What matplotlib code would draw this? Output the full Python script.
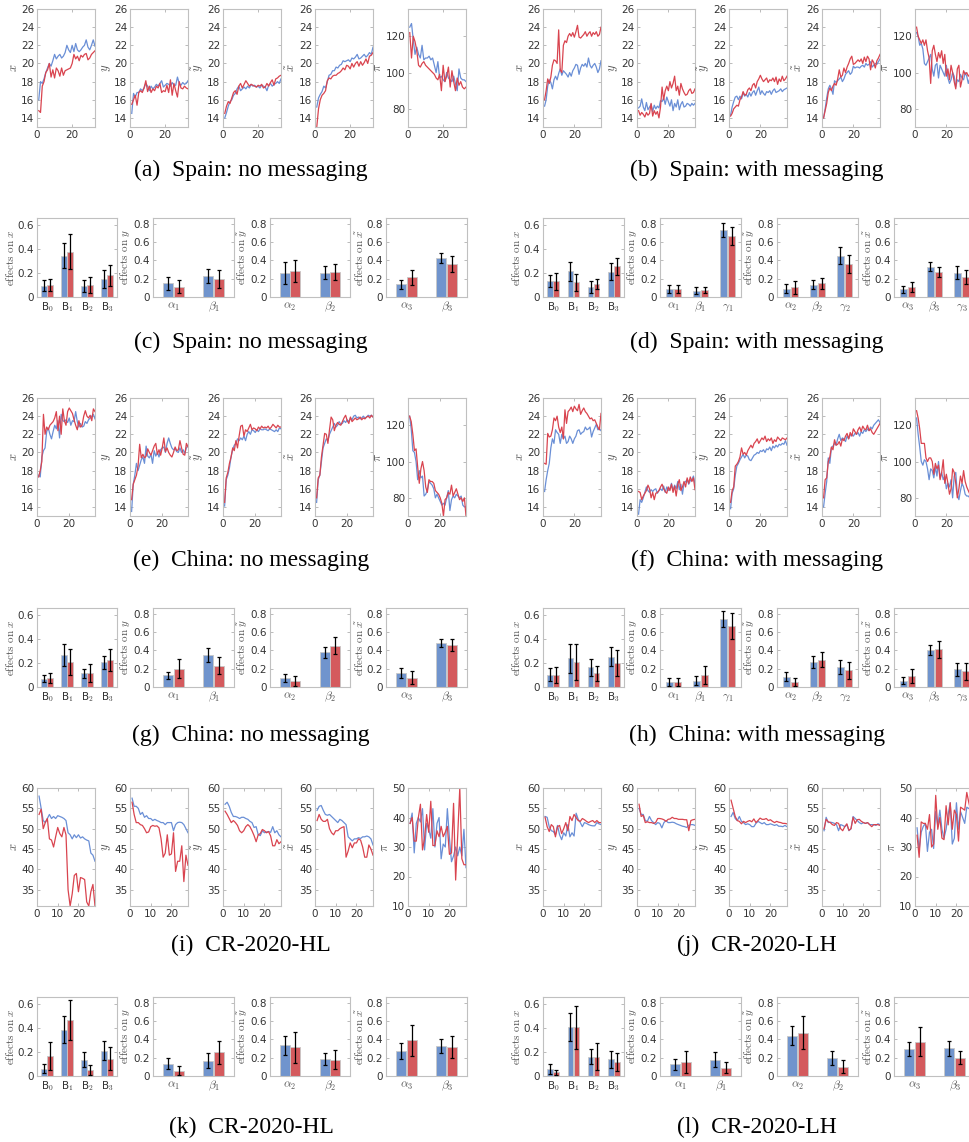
import numpy as np
import matplotlib
matplotlib.use('Agg')
import matplotlib.pyplot as plt

plt.rcParams['mathtext.fontset'] = 'cm'
plt.rcParams['font.family'] = ['DejaVu Sans']

# ---------------- time-series data ----------------
# panel (a) Spain: no messaging
a_x_b = [16.0, 18.0, 17.8, 18.3, 19.0, 19.5, 20.0, 19.7, 20.3, 21.0, 20.5, 20.8, 21.0, 20.6, 20.8, 21.2, 22.0, 21.5, 21.2, 22.0, 21.3, 22.2, 21.5, 21.3, 21.5, 21.8, 22.0, 22.6, 21.8, 21.5, 22.0, 22.6, 21.9]
a_x_r = [14.8, 14.6, 17.5, 18.0, 19.0, 19.3, 20.0, 18.5, 19.3, 18.4, 19.5, 19.2, 18.6, 19.5, 18.7, 19.2, 19.3, 19.4, 19.5, 20.0, 21.0, 20.5, 20.8, 20.3, 20.9, 20.7, 21.0, 21.1, 20.4, 20.6, 21.0, 21.2, 21.4]
a_y_b = [14.5, 16.7, 16.3, 16.8, 16.8, 17.2, 17.0, 17.3, 17.8, 17.5, 17.0, 17.5, 17.2, 17.4, 17.7, 17.5, 17.8, 18.1, 17.4, 17.6, 17.8, 17.7, 17.5, 17.9, 17.6, 17.6, 18.5, 17.8, 17.6, 17.9, 17.7, 17.8, 18.1]
a_y_r = [15.5, 16.0, 16.5, 15.4, 16.8, 17.0, 16.8, 17.3, 18.1, 16.9, 17.5, 16.8, 17.2, 17.0, 17.5, 17.3, 17.8, 16.8, 17.0, 16.9, 17.6, 16.8, 18.2, 16.5, 17.8, 17.0, 16.3, 18.0, 17.3, 17.2, 17.5, 17.3, 17.2]
a_yt_b = [14.0, 14.6, 15.3, 15.8, 16.0, 16.5, 16.7, 17.2, 17.5, 17.0, 17.2, 17.4, 17.2, 17.5, 17.3, 17.7, 17.5, 17.6, 17.4, 17.5, 17.3, 17.6, 17.5, 17.4, 17.0, 17.6, 17.8, 17.5, 17.7, 17.8, 18.0, 17.8, 18.3]
a_yt_r = [14.5, 15.3, 15.8, 15.6, 16.2, 16.8, 17.0, 16.6, 17.5, 17.8, 17.3, 17.7, 18.1, 17.8, 17.5, 17.7, 17.6, 17.5, 17.4, 17.6, 17.5, 17.7, 17.3, 17.4, 17.8, 17.5, 17.9, 18.2, 17.6, 18.3, 18.4, 18.6, 18.7]
a_xt_b = [15.2, 16.2, 16.6, 16.9, 17.5, 17.3, 18.0, 18.7, 18.8, 19.2, 19.2, 19.6, 19.5, 19.8, 19.9, 20.3, 20.2, 20.3, 20.4, 20.2, 20.6, 20.5, 20.7, 21.0, 20.5, 20.6, 20.8, 21.0, 20.7, 20.9, 21.2, 21.0, 21.8]
a_xt_r = [13.0, 15.0, 16.0, 16.5, 16.7, 17.0, 18.1, 18.4, 18.3, 18.6, 18.7, 18.7, 18.9, 19.0, 19.2, 19.5, 19.3, 19.8, 19.7, 19.4, 20.0, 19.6, 20.0, 20.2, 19.7, 20.2, 19.8, 20.1, 20.5, 20.0, 20.8, 20.9, 21.2]
a_pi_b = [125, 127, 118, 110, 114, 110, 108, 115, 107, 108, 108, 109, 107, 108, 104, 100, 106, 97, 98, 96, 95, 100, 97, 96, 95, 98, 94, 90, 102, 97, 96, 96, 95]
a_pi_r = [122, 108, 120, 117, 112, 104, 103, 105, 106, 104, 103, 102, 101, 100, 99, 97, 96, 99, 90, 104, 95, 98, 103, 92, 101, 95, 90, 97, 93, 95, 92, 91, 92]

# panel (b) Spain: with messaging
b_x_b = [15.3, 16.0, 17.5, 18.2, 17.9, 17.2, 18.2, 18.6, 18.2, 18.9, 19.4, 18.7, 19.2, 19.0, 18.8, 18.5, 19.0, 18.6, 19.2, 19.5, 19.9, 19.8, 18.8, 19.5, 19.9, 19.7, 20.0, 19.6, 20.6, 19.8, 19.5, 19.8, 20.0, 19.6, 19.0, 19.4, 20.3]
b_x_r = [16.0, 17.0, 18.3, 17.8, 18.5, 19.8, 20.4, 20.3, 20.0, 23.7, 19.3, 19.0, 22.0, 22.5, 22.3, 23.0, 23.3, 23.0, 23.4, 22.9, 23.5, 24.2, 22.9, 22.8, 23.0, 23.2, 23.5, 23.0, 23.3, 23.5, 23.0, 23.4, 23.2, 23.5, 23.0, 23.2, 24.0]
b_y_b = [15.1, 15.3, 16.1, 15.2, 14.8, 15.7, 14.9, 15.2, 15.5, 14.7, 15.4, 15.0, 15.3, 15.1, 15.9, 15.8, 16.2, 15.5, 16.3, 15.8, 15.3, 16.0, 14.8, 15.6, 15.2, 16.0, 14.9, 15.5, 15.8, 15.2, 15.3, 15.6, 15.5, 15.3, 15.6, 15.4, 15.6]
b_y_r = [14.8, 14.3, 14.6, 14.4, 14.1, 14.6, 14.3, 14.5, 15.6, 14.2, 14.8, 14.4, 14.7, 14.0, 15.2, 17.4, 16.0, 17.0, 17.5, 17.0, 18.0, 17.3, 17.8, 18.6, 17.0, 17.5, 16.5, 17.8, 17.2, 16.8, 16.5, 16.6, 17.0, 17.2, 16.7, 16.8, 17.2]
b_yt_b = [14.3, 15.2, 15.8, 16.3, 16.4, 16.0, 16.4, 16.1, 16.8, 16.4, 16.6, 16.3, 16.8, 16.4, 16.8, 17.0, 16.5, 17.0, 17.4, 16.6, 17.0, 16.7, 16.5, 16.9, 16.8, 17.0, 16.6, 17.0, 17.2, 16.8, 16.9, 17.0, 17.2, 16.9, 17.1, 17.2, 17.3]
b_yt_r = [14.2, 14.5, 15.0, 15.2, 15.4, 15.3, 16.0, 16.3, 16.9, 16.5, 16.6, 17.1, 17.3, 17.0, 17.6, 17.8, 17.3, 18.0, 18.3, 18.7, 18.3, 18.0, 18.2, 18.4, 17.9, 18.2, 18.1, 18.4, 18.0, 18.5, 17.7, 18.3, 18.0, 18.6, 18.1, 18.3, 18.6]
b_xt_b = [14.0, 15.0, 16.2, 17.2, 17.6, 17.2, 16.6, 18.1, 17.9, 18.1, 18.3, 18.5, 18.0, 18.3, 18.8, 19.0, 19.2, 18.8, 19.0, 19.7, 19.5, 19.6, 19.6, 19.5, 19.7, 19.8, 19.6, 20.0, 19.8, 19.9, 20.2, 19.6, 19.8, 20.0, 19.9, 20.2, 20.5]
b_xt_r = [14.0, 14.8, 15.6, 16.8, 17.3, 17.0, 17.5, 17.8, 17.6, 18.3, 19.3, 18.5, 18.7, 19.5, 19.0, 19.6, 20.0, 20.5, 20.8, 19.9, 20.0, 20.2, 20.4, 20.2, 20.5, 20.0, 20.7, 20.2, 20.8, 20.5, 19.3, 20.4, 20.1, 19.5, 20.3, 20.6, 21.0]
b_pi_b = [122, 120, 115, 116, 113, 105, 104, 106, 108, 110, 102, 98, 104, 105, 97, 104, 102, 100, 98, 104, 97, 94, 96, 100, 98, 92, 96, 95, 99, 97, 96, 100, 98, 94, 97, 92, 87]
b_pi_r = [125, 120, 118, 116, 118, 115, 118, 112, 108, 94, 112, 115, 110, 106, 111, 108, 112, 105, 110, 98, 102, 96, 104, 100, 95, 91, 102, 104, 92, 96, 101, 99, 100, 98, 99, 97, 96]

# panel (e) China: no messaging
e_x_b = [17.5, 17.3, 19.5, 20.2, 20.5, 22.3, 22.7, 22.0, 21.5, 22.3, 23.0, 22.6, 23.5, 21.6, 24.2, 23.5, 23.4, 23.6, 23.3, 23.8, 23.0, 23.5, 23.4, 24.5, 23.4, 22.8, 23.2, 22.8, 22.9, 23.4, 23.2, 23.6, 23.8, 24.0, 24.2, 23.7]
e_x_r = [17.3, 18.0, 19.0, 24.2, 22.0, 22.8, 22.5, 23.0, 23.2, 23.4, 23.8, 24.5, 22.4, 24.0, 22.0, 24.8, 23.5, 23.0, 24.5, 24.9, 24.6, 24.3, 23.6, 23.0, 22.5, 23.5, 22.8, 23.0, 24.0, 24.6, 24.0, 23.8, 24.1, 23.5, 24.8, 24.5]
e_y_b = [13.5, 16.5, 17.5, 18.8, 18.0, 18.6, 19.2, 19.5, 18.8, 20.7, 19.6, 19.4, 19.8, 18.8, 20.2, 19.6, 20.0, 19.5, 20.3, 20.5, 20.6, 20.0, 21.0, 21.6, 21.0, 20.5, 20.3, 20.4, 20.1, 20.0, 20.5, 20.0, 20.3, 19.9, 20.5, 20.8]
e_y_r = [14.8, 16.5, 17.0, 17.5, 18.5, 20.9, 19.4, 19.8, 19.4, 19.6, 20.4, 20.0, 19.7, 20.2, 20.7, 21.0, 19.8, 20.3, 19.7, 20.5, 21.6, 20.1, 20.5, 20.0, 19.7, 19.5, 20.0, 20.6, 20.2, 20.3, 21.3, 20.5, 19.8, 19.7, 21.0, 20.6]
e_yt_b = [14.1, 17.0, 17.5, 18.3, 19.5, 20.3, 20.8, 21.0, 21.5, 21.3, 21.6, 21.4, 21.8, 21.3, 22.0, 22.3, 22.0, 22.5, 22.4, 22.2, 22.5, 22.3, 22.6, 22.5, 22.5, 22.6, 22.5, 22.4, 22.6, 22.5, 22.4, 22.3, 22.5, 22.3, 22.7, 22.6]
e_yt_r = [14.5, 17.2, 17.8, 18.8, 19.5, 20.5, 20.2, 21.3, 20.5, 21.8, 22.9, 23.0, 21.8, 22.5, 22.3, 22.7, 23.1, 22.5, 22.7, 22.6, 22.4, 22.8, 22.6, 22.9, 22.7, 22.8, 22.7, 22.9, 22.6, 22.8, 23.1, 22.9, 22.7, 23.0, 22.8, 22.8]
e_xt_b = [14.5, 17.0, 17.5, 19.0, 20.5, 21.0, 21.5, 21.3, 22.0, 22.4, 22.8, 23.2, 22.8, 23.0, 23.4, 23.1, 23.2, 23.5, 23.3, 23.6, 23.4, 23.8, 23.6, 24.0, 24.1, 23.8, 23.9, 23.7, 23.8, 24.0, 23.8, 23.9, 24.1, 24.0, 24.1, 23.9]
e_xt_r = [15.0, 17.2, 17.5, 19.5, 20.8, 22.1, 22.0, 21.0, 22.5, 23.9, 23.6, 22.4, 23.0, 23.3, 23.1, 23.0, 23.4, 23.8, 24.1, 23.5, 23.2, 23.9, 23.4, 23.6, 23.8, 23.6, 23.7, 23.9, 23.6, 23.8, 23.7, 23.9, 24.0, 23.8, 24.1, 23.9]
e_pi_b = [125, 118, 106, 105, 100, 90, 95, 91, 92, 81, 82, 84, 89, 88, 87, 85, 80, 82, 80, 78, 76, 77, 76, 80, 84, 73, 79, 81, 80, 82, 81, 80, 81, 76, 75, 75]
e_pi_r = [125, 122, 115, 106, 107, 97, 88, 96, 100, 95, 86, 83, 90, 89, 89, 88, 84, 83, 82, 80, 77, 70, 79, 80, 83, 82, 87, 81, 83, 85, 82, 79, 80, 78, 80, 70]

# panel (f) China: with messaging
f_x_b = [15.7, 17.0, 18.0, 18.8, 20.5, 21.5, 21.0, 22.5, 22.2, 22.0, 21.0, 22.0, 21.5, 21.8, 21.0, 21.2, 21.8, 21.5, 21.0, 21.5, 21.8, 22.4, 22.5, 22.0, 22.2, 22.3, 22.8, 22.5, 22.6, 22.8, 21.7, 22.3, 22.7, 23.1, 22.5, 22.6, 22.4]
f_x_r = [18.8, 18.7, 22.1, 21.7, 21.8, 22.5, 23.8, 23.5, 24.0, 22.8, 22.2, 22.8, 21.5, 24.7, 23.2, 24.5, 24.7, 25.0, 24.5, 25.1, 24.8, 24.6, 25.3, 24.2, 24.6, 24.9, 24.5, 24.3, 24.0, 23.7, 23.8, 23.5, 23.6, 23.2, 22.8, 22.5, 24.3]
f_y_b = [13.2, 14.8, 14.5, 15.0, 15.6, 16.2, 15.8, 15.6, 15.9, 15.7, 15.9, 16.0, 15.5, 15.8, 16.0, 15.8, 16.3, 15.6, 16.2, 15.8, 16.0, 16.6, 15.8, 16.4, 16.0, 16.8, 15.9, 16.5, 15.4, 16.6, 16.8, 17.0, 16.5, 16.9, 17.0, 17.4, 16.5]
f_y_r = [15.7, 15.6, 14.8, 15.2, 15.5, 15.8, 16.4, 16.0, 15.0, 15.6, 14.8, 15.5, 15.6, 15.8, 16.2, 16.5, 16.0, 15.7, 15.5, 16.2, 15.8, 16.5, 15.6, 16.3, 15.2, 16.5, 17.0, 15.8, 16.2, 16.8, 16.2, 17.2, 16.6, 17.3, 16.8, 17.2, 15.9]
f_yt_b = [13.8, 15.5, 16.0, 17.5, 18.5, 18.8, 19.2, 19.5, 19.8, 19.4, 19.7, 19.6, 19.2, 19.1, 19.4, 19.7, 19.8, 20.0, 19.9, 20.2, 20.1, 20.3, 20.0, 20.4, 20.3, 20.6, 20.2, 20.7, 20.5, 20.8, 20.6, 20.9, 20.8, 21.0, 20.9, 21.3, 20.8]
f_yt_r = [14.5, 15.8, 16.2, 18.5, 18.7, 19.0, 19.5, 20.5, 19.8, 20.0, 19.7, 20.2, 20.5, 20.8, 20.5, 21.0, 21.2, 21.5, 21.0, 21.3, 21.6, 21.4, 21.8, 21.2, 21.5, 21.3, 21.6, 21.0, 21.4, 21.2, 21.7, 21.5, 21.3, 21.6, 21.5, 21.4, 21.6]
f_xt_b = [14.0, 15.5, 16.8, 19.4, 18.8, 20.5, 20.7, 21.0, 20.8, 21.5, 22.0, 21.3, 21.6, 21.5, 21.2, 21.8, 21.5, 21.9, 22.0, 21.8, 22.1, 22.0, 22.2, 21.8, 22.3, 22.1, 22.5, 22.3, 22.6, 22.4, 22.8, 22.6, 23.0, 23.2, 23.4, 23.6, 23.3]
f_xt_r = [15.0, 17.0, 17.2, 19.0, 19.5, 20.6, 20.3, 21.4, 20.8, 20.9, 21.2, 20.7, 21.5, 21.3, 21.8, 22.1, 21.5, 22.2, 21.8, 22.6, 22.3, 22.0, 22.5, 22.8, 22.3, 22.9, 22.6, 22.5, 23.0, 22.4, 22.6, 22.2, 22.0, 22.3, 22.6, 22.9, 23.2]
f_pi_b = [124, 115, 108, 100, 98, 101, 100, 96, 90, 96, 95, 91, 97, 92, 100, 91, 94, 90, 92, 85, 88, 86, 90, 80, 92, 94, 82, 79, 84, 88, 86, 82, 81, 81, 80, 80, 80]
f_pi_r = [128, 124, 118, 110, 110, 110, 102, 100, 102, 102, 100, 93, 99, 96, 98, 90, 94, 101, 88, 93, 88, 82, 85, 96, 94, 88, 80, 85, 92, 88, 95, 89, 86, 84, 82, 81, 80]

# panel (i) CR-2020-HL
i_x_b = [58, 55, 52, 51.5, 52.5, 53.5, 52.5, 53, 52.5, 53.2, 53, 52.8, 52.5, 52, 49, 48.5, 47.5, 48.5, 47.8, 48.5, 47.7, 48, 47.5, 47.2, 47, 44, 43.5, 42]
i_x_r = [53.5, 54.8, 50, 51.5, 52.5, 47.5, 47.2, 45.5, 48, 50.3, 48.8, 48, 50.3, 48.5, 35, 31, 34, 38.5, 39, 34.5, 38, 37.8, 37.5, 32, 31, 34.5, 36.3, 31]
i_y_b = [57.5, 55.5, 55.5, 55, 53.5, 54, 52.8, 53.2, 52.5, 52.5, 52, 52.3, 52, 51.8, 51.5, 51.5, 51, 51.5, 51.5, 51.5, 49.5, 51, 51.5, 51.6, 51.5, 51, 50, 49]
i_y_r = [56.5, 53.5, 51.5, 51.5, 51, 50.8, 50, 49, 49.2, 50.5, 50.8, 50.6, 50.7, 50.2, 47.5, 43, 44, 48.5, 43.5, 43.8, 49, 39.5, 42, 42, 45.8, 37, 43.5, 41]
i_yt_b = [56, 56.5, 55.5, 54, 53, 53, 52.8, 52.5, 52.8, 52.8, 52.5, 52.3, 51.8, 51.5, 50.3, 50.5, 48.5, 48.3, 49.5, 49, 49.2, 49.3, 49.1, 50.5, 49, 49.5, 48.5, 48]
i_yt_r = [54.3, 53.5, 52.5, 51.5, 52, 51.5, 50.8, 49.5, 49, 49.5, 50.5, 51, 50.5, 49.5, 48.3, 46.8, 48.5, 48.8, 49.8, 49.5, 49, 49.3, 48.2, 45.8, 45.8, 47.3, 46.3, 46.8]
i_xt_b = [54.5, 55.5, 55.7, 54.5, 53.5, 53.3, 53.5, 53, 52.5, 52, 51.5, 52.3, 52, 51.5, 51, 48, 47.5, 47, 47.5, 47.5, 47.8, 47.6, 48, 48, 48.2, 48, 47.5, 46]
i_xt_r = [52, 53.5, 52.3, 51.8, 51.8, 52.3, 50, 49, 48.5, 49.5, 49.5, 50, 50.3, 50.5, 43, 44.5, 46.5, 45.3, 46.5, 46.5, 47.5, 47.2, 45.5, 43, 43, 46, 45, 43.5]
i_pi_b = [38, 41.5, 28, 38, 40, 38.5, 43, 29, 38, 36, 33, 43, 30, 38, 40, 26, 31, 30, 43, 33, 25, 27, 30, 27, 30, 27, 36, 23]
i_pi_r = [38, 40, 32, 32, 40, 44.5, 29, 33, 41, 35, 45.5, 30.5, 30.5, 35.5, 33.5, 37, 33.5, 35, 37, 27.5, 28, 44.8, 18.8, 34, 50, 26, 24, 24]

# panel (j) CR-2020-LH
j_x_b = [53, 52.8, 50.5, 49.5, 49.3, 48.5, 50.8, 48.5, 47.3, 49, 48.2, 51, 48, 49, 48.2, 53.8, 52.3, 51.5, 50.5, 51.5, 51.3, 51, 50.8, 50.7, 50.7, 51.5, 51.2, 51]
j_x_r = [52.8, 50.5, 49.3, 51, 50.5, 48, 50.5, 50.8, 48.8, 50, 51.5, 49.5, 53, 52, 53.5, 52.7, 52, 51.8, 52.5, 52.2, 51.8, 51.5, 51.8, 52, 51.5, 52, 51.5, 51.5]
j_y_b = [55, 53.5, 53.5, 52, 51.8, 53, 52, 51.5, 51, 51.5, 51.3, 50.2, 51.5, 52, 51.5, 51.5, 51.6, 51.5, 51.2, 51, 50.8, 50.6, 50.5, 50.3, 50.8, 51, 51, 50.8]
j_y_r = [56, 53, 53.3, 51.5, 51.7, 51.5, 51.5, 51.3, 51.5, 52.5, 52.5, 52.4, 52.2, 51.8, 52.3, 52.4, 52.8, 52.5, 52.5, 52.3, 52.3, 52.3, 52.2, 52.2, 49.5, 52, 52.2, 52.3]
j_yt_b = [53, 54, 52.5, 52, 53, 51.8, 51.5, 51, 51.2, 51, 50.5, 50.5, 51.3, 51.8, 51.5, 51.2, 51.5, 51, 51, 51.2, 51, 50.8, 51, 50.6, 50.6, 50.5, 50.8, 50.5]
j_yt_r = [57, 55, 53, 52, 51.8, 51.2, 51.8, 51.5, 51.8, 52, 51.7, 52.4, 51.5, 52, 52.6, 52.3, 52.3, 52.5, 52, 52.2, 51.8, 51.5, 51.8, 51.6, 51.5, 51.3, 51.3, 51.2]
j_xt_b = [49.5, 52.8, 51.5, 51.6, 51.5, 51.3, 51, 49.5, 51, 50.8, 50.5, 51, 49.5, 50, 53, 52.5, 52, 51.5, 51.2, 51.5, 51.3, 51.5, 51, 51, 51, 50.8, 51.2, 51]
j_xt_r = [50, 52.3, 51.7, 51.5, 51, 50.8, 51.5, 51.3, 50, 49.5, 50.5, 51.2, 49.6, 50, 52.8, 51.3, 52.2, 52.3, 51.8, 51.5, 51.3, 51.5, 51, 50.5, 51, 51, 51, 50.8]
j_pi_b = [36.5, 29, 35, 37, 38, 28.5, 35, 36, 29.5, 42, 37, 42.5, 36, 33, 36, 41, 45, 31, 33, 45, 36, 42, 40, 38, 43.5, 43, 44, 40]
j_pi_r = [34, 26.5, 38.5, 38, 38, 36, 41, 30, 31, 47.5, 36, 40, 33, 32.5, 44, 37.5, 45, 36, 42.5, 41, 32, 43.5, 43, 42.5, 48.5, 45, 42, 45]

# ---------------- bar data (value, error) ----------------
cat_B = ['B$_0$', 'B$_1$', 'B$_2$', 'B$_3$']
cat_y2 = [r'$\alpha_1$', r'$\beta_1$']
cat_yt2 = [r'$\alpha_2$', r'$\beta_2$']
cat_xt2 = [r'$\alpha_3$', r'$\beta_3$']
cat_y3 = [r'$\alpha_1$', r'$\beta_1$', r'$\gamma_1$']
cat_yt3 = [r'$\alpha_2$', r'$\beta_2$', r'$\gamma_2$']
cat_xt3 = [r'$\alpha_3$', r'$\beta_3$', r'$\gamma_3$']

# (c) Spain: no messaging
c_B_b = [0.095, 0.345, 0.093, 0.147];  c_B_be = [0.045, 0.105, 0.05, 0.075]
c_B_r = [0.10, 0.38, 0.10, 0.18];      c_B_re = [0.05, 0.147, 0.065, 0.09]
c_y_b = [0.148, 0.232];  c_y_be = [0.067, 0.075]
c_y_r = [0.114, 0.195];  c_y_re = [0.07, 0.10]
c_yt_b = [0.258, 0.265]; c_yt_be = [0.12, 0.07]
c_yt_r = [0.28, 0.273];  c_yt_re = [0.12, 0.09]
c_xt_b = [0.14, 0.424];  c_xt_be = [0.05, 0.055]
c_xt_r = [0.214, 0.36];  c_xt_re = [0.085, 0.09]

# (d) Spain: with messaging
d_B_b = [0.133, 0.215, 0.082, 0.212];  d_B_be = [0.05, 0.08, 0.05, 0.07]
d_B_r = [0.13, 0.122, 0.11, 0.257];    d_B_re = [0.07, 0.07, 0.04, 0.07]
d_y_b = [0.085, 0.07, 0.73];   d_y_be = [0.045, 0.04, 0.075]
d_y_r = [0.088, 0.074, 0.664]; d_y_re = [0.045, 0.035, 0.10]
d_yt_b = [0.092, 0.136, 0.45]; d_yt_be = [0.045, 0.045, 0.09]
d_yt_r = [0.107, 0.151, 0.36]; d_yt_re = [0.07, 0.06, 0.10]
d_xt_b = [0.085, 0.328, 0.265]; d_xt_be = [0.04, 0.05, 0.07]
d_xt_r = [0.11, 0.27, 0.22];    d_xt_re = [0.055, 0.055, 0.075]

# (g) China: no messaging
g_B_b = [0.07, 0.268, 0.113, 0.206];  g_B_be = [0.03, 0.095, 0.04, 0.055]
g_B_r = [0.076, 0.21, 0.118, 0.225];  g_B_re = [0.04, 0.11, 0.075, 0.09]
g_y_b = [0.128, 0.347];  g_y_be = [0.04, 0.075]
g_y_r = [0.20, 0.234];   g_y_re = [0.105, 0.095]
g_yt_b = [0.095, 0.376]; g_yt_be = [0.045, 0.06]
g_yt_r = [0.066, 0.45];  g_yt_re = [0.055, 0.09]
g_xt_b = [0.153, 0.478]; g_xt_be = [0.05, 0.045]
g_xt_r = [0.10, 0.46];   g_xt_re = [0.07, 0.065]

# (h) China: with messaging
h_B_b = [0.104, 0.24, 0.163, 0.253];  h_B_be = [0.055, 0.12, 0.07, 0.08]
h_B_r = [0.099, 0.206, 0.113, 0.20];  h_B_re = [0.065, 0.15, 0.065, 0.11]
h_y_b = [0.055, 0.07, 0.74];    h_y_be = [0.04, 0.05, 0.088]
h_y_r = [0.055, 0.128, 0.664];  h_y_re = [0.04, 0.10, 0.14]
h_yt_b = [0.11, 0.277, 0.219];  h_yt_be = [0.048, 0.065, 0.073]
h_yt_r = [0.055, 0.296, 0.182]; h_yt_re = [0.04, 0.082, 0.095]
h_xt_b = [0.07, 0.405, 0.193];  h_xt_be = [0.035, 0.055, 0.07]
h_xt_r = [0.12, 0.41, 0.172];   h_xt_re = [0.073, 0.09, 0.093]

# (k) CR-2020-HL
k_B_b = [0.062, 0.387, 0.137, 0.213];  k_B_be = [0.035, 0.112, 0.062, 0.082]
k_B_r = [0.165, 0.465, 0.05, 0.146];   k_B_re = [0.115, 0.166, 0.04, 0.10]
k_y_b = [0.135, 0.167];  k_y_be = [0.06, 0.078]
k_y_r = [0.058, 0.258];  k_y_re = [0.047, 0.127]
k_yt_b = [0.335, 0.182]; k_yt_be = [0.104, 0.066]
k_yt_r = [0.313, 0.178]; k_yt_re = [0.168, 0.107]
k_xt_b = [0.269, 0.324]; k_xt_be = [0.088, 0.075]
k_xt_r = [0.39, 0.313];  k_xt_re = [0.17, 0.12]

# (l) CR-2020-LH
l_B_b = [0.059, 0.409, 0.16, 0.14];   l_B_be = [0.043, 0.118, 0.063, 0.07]
l_B_r = [0.031, 0.406, 0.162, 0.118]; l_B_re = [0.021, 0.18, 0.11, 0.075]
l_y_b = [0.127, 0.178];  l_y_be = [0.06, 0.084]
l_y_r = [0.153, 0.09];   l_y_re = [0.115, 0.06]
l_yt_b = [0.44, 0.193];  l_yt_be = [0.10, 0.075]
l_yt_r = [0.473, 0.10];  l_yt_re = [0.175, 0.07]
l_xt_b = [0.29, 0.30];   l_xt_be = [0.075, 0.08]
l_xt_r = [0.375, 0.20];  l_xt_re = [0.155, 0.073]

captions = ['(a)  Spain: no messaging', '(b)  Spain: with messaging',
            '(c)  Spain: no messaging', '(d)  Spain: with messaging',
            '(e)  China: no messaging', '(f)  China: with messaging',
            '(g)  China: no messaging', '(h)  China: with messaging',
            '(i)  CR-2020-HL', '(j)  CR-2020-LH',
            '(k)  CR-2020-HL', '(l)  CR-2020-LH']

# ---------------- styling ----------------
W, H = 970, 1142
BLUE_L, RED_L = '#6a8fd6', '#d9444f'
BLUE_B, RED_B = '#7094cd', '#d45a5d'
SPINE = '#c0c0c0'
TXT = '#333333'
LAB = '#555555'

fig = plt.figure(figsize=(W / 100, H / 100), dpi=100)


def add_ax(x0, y0, w, h):
    return fig.add_axes([x0 / W, 1 - (y0 + h) / H, w / W, h / H])


def style(ax):
    for s in ax.spines.values():
        s.set_color(SPINE)
        s.set_linewidth(0.8)
    ax.tick_params(direction='in', length=2, width=0.5, color='#a0a0a0',
                   labelsize=7.5, labelcolor=TXT, top=True, right=True, pad=2)


TS_LABELS = [r'$x$', r'$y$', r'$\tilde{y}$', r'$\tilde{x}$', r'$\pi$']


def ts_panel(lefts, top, series, xmax, xticks, ylim_main, yticks_main, ylim_pi, yticks_pi):
    for k, (left, (sb, sr)) in enumerate(zip(lefts, series)):
        ax = add_ax(left, top, 58, 118)
        style(ax)
        tb = np.arange(1, len(sb) + 1)
        tr = np.arange(1, len(sr) + 1)
        ax.plot(tb, sb, color=BLUE_L, lw=0.9)
        ax.plot(tr, sr, color=RED_L, lw=0.9)
        ax.set_xlim(0, xmax)
        ax.set_xticks(xticks)
        if k < 4:
            ax.set_ylim(*ylim_main)
            ax.set_yticks(yticks_main)
        else:
            ax.set_ylim(*ylim_pi)
            ax.set_yticks(yticks_pi)
        ax.set_ylabel(TS_LABELS[k], color=LAB, fontsize=9, labelpad=1)


BAR_LABELS = [r'$\mathrm{effects\ on}\ x$', r'$\mathrm{effects\ on}\ y$',
              r'$\mathrm{effects\ on}\ \tilde{y}$', r'$\mathrm{effects\ on}\ \tilde{x}$']


def bar_ax(box, k, cats, vb, eb, vr, er):
    ax = add_ax(*box)
    style(ax)
    ax.tick_params(top=False, bottom=False)
    n = len(cats)
    x = np.arange(1, n + 1)
    w = 0.28 if n > 2 else 0.25
    xl = (0.5, n + 0.5)
    g = 0.02
    xb = x - w / 2 - g / 2
    xr = x + w / 2 + g / 2
    ax.bar(xb, vb, width=w, color=BLUE_B, edgecolor='#c8c8c8', linewidth=0.6, zorder=2)
    ax.bar(xr, vr, width=w, color=RED_B, edgecolor='#c8c8c8', linewidth=0.6, zorder=2)
    ax.errorbar(xb, vb, yerr=eb, fmt='none', ecolor='black', elinewidth=0.9, capsize=1.3, capthick=0.9, zorder=3)
    ax.errorbar(xr, vr, yerr=er, fmt='none', ecolor='black', elinewidth=0.9, capsize=1.3, capthick=0.9, zorder=3)
    ax.set_xlim(*xl)
    ax.set_xticks(x)
    ax.set_xticklabels(cats, fontsize=8.5 if k != 0 else 7.5, color=LAB if k != 0 else TXT)
    if k == 0:
        ax.set_ylim(0, 0.66)
        ax.set_yticks([0, 0.2, 0.4, 0.6])
        ax.set_yticklabels(['0', '0.2', '0.4', '0.6'])
    else:
        ax.set_ylim(0, 0.86)
        ax.set_yticks([0, 0.2, 0.4, 0.6, 0.8])
        ax.set_yticklabels(['0', '0.2', '0.4', '0.6', '0.8'])
    ax.set_ylabel(BAR_LABELS[k], color=LAB, fontsize=8, labelpad=1)


TS_L = [37, 130, 223, 315, 408]
TS_R = [543, 637, 729, 822, 915]
BAR_L = [(37, 80), (153, 81), (270, 80), (386, 81)]
BAR_R = [(543, 81), (660, 81), (777, 81), (894, 81)]

ts_main = (13, 26); ts_main_t = [14, 16, 18, 20, 22, 24, 26]
ts_pi = (70, 135); ts_pi_t = [80, 100, 120]
cr_main = (31, 60); cr_main_t = [35, 40, 45, 50, 55, 60]
cr_pi = (10, 50); cr_pi_t = [10, 20, 30, 40, 50]

ts_panel(TS_L, 9, [(a_x_b, a_x_r), (a_y_b, a_y_r), (a_yt_b, a_yt_r), (a_xt_b, a_xt_r), (a_pi_b, a_pi_r)],
         33, [0, 20], ts_main, ts_main_t, ts_pi, ts_pi_t)
ts_panel(TS_R, 9, [(b_x_b, b_x_r), (b_y_b, b_y_r), (b_yt_b, b_yt_r), (b_xt_b, b_xt_r), (b_pi_b, b_pi_r)],
         37, [0, 20], ts_main, ts_main_t, ts_pi, ts_pi_t)
ts_panel(TS_L, 398, [(e_x_b, e_x_r), (e_y_b, e_y_r), (e_yt_b, e_yt_r), (e_xt_b, e_xt_r), (e_pi_b, e_pi_r)],
         36, [0, 20], ts_main, ts_main_t, ts_pi, ts_pi_t)
ts_panel(TS_R, 398, [(f_x_b, f_x_r), (f_y_b, f_y_r), (f_yt_b, f_yt_r), (f_xt_b, f_xt_r), (f_pi_b, f_pi_r)],
         37, [0, 20], ts_main, ts_main_t, ts_pi, ts_pi_t)
ts_panel(TS_L, 788, [(i_x_b, i_x_r), (i_y_b, i_y_r), (i_yt_b, i_yt_r), (i_xt_b, i_xt_r), (i_pi_b, i_pi_r)],
         28, [0, 10, 20], cr_main, cr_main_t, cr_pi, cr_pi_t)
ts_panel(TS_R, 788, [(j_x_b, j_x_r), (j_y_b, j_y_r), (j_yt_b, j_yt_r), (j_xt_b, j_xt_r), (j_pi_b, j_pi_r)],
         28, [0, 10, 20], cr_main, cr_main_t, cr_pi, cr_pi_t)


def bar_panel(boxes, top, h, cats, data):
    for k, ((left, w), c, d) in enumerate(zip(boxes, cats, data)):
        bar_ax((left, top, w, h), k, c, *d)


two = [cat_B, cat_y2, cat_yt2, cat_xt2]
three = [cat_B, cat_y3, cat_yt3, cat_xt3]
bar_panel(BAR_L, 218, 79, two, [(c_B_b, c_B_be, c_B_r, c_B_re), (c_y_b, c_y_be, c_y_r, c_y_re),
                                (c_yt_b, c_yt_be, c_yt_r, c_yt_re), (c_xt_b, c_xt_be, c_xt_r, c_xt_re)])
bar_panel(BAR_R, 218, 79, three, [(d_B_b, d_B_be, d_B_r, d_B_re), (d_y_b, d_y_be, d_y_r, d_y_re),
                                  (d_yt_b, d_yt_be, d_yt_r, d_yt_re), (d_xt_b, d_xt_be, d_xt_r, d_xt_re)])
bar_panel(BAR_L, 608, 79, two, [(g_B_b, g_B_be, g_B_r, g_B_re), (g_y_b, g_y_be, g_y_r, g_y_re),
                                (g_yt_b, g_yt_be, g_yt_r, g_yt_re), (g_xt_b, g_xt_be, g_xt_r, g_xt_re)])
bar_panel(BAR_R, 608, 79, three, [(h_B_b, h_B_be, h_B_r, h_B_re), (h_y_b, h_y_be, h_y_r, h_y_re),
                                  (h_yt_b, h_yt_be, h_yt_r, h_yt_re), (h_xt_b, h_xt_be, h_xt_r, h_xt_re)])
bar_panel(BAR_L, 997, 79, two, [(k_B_b, k_B_be, k_B_r, k_B_re), (k_y_b, k_y_be, k_y_r, k_y_re),
                                (k_yt_b, k_yt_be, k_yt_r, k_yt_re), (k_xt_b, k_xt_be, k_xt_r, k_xt_re)])
bar_panel(BAR_R, 997, 79, two, [(l_B_b, l_B_be, l_B_r, l_B_re), (l_y_b, l_y_be, l_y_r, l_y_re),
                                (l_yt_b, l_yt_be, l_yt_r, l_yt_re), (l_xt_b, l_xt_be, l_xt_r, l_xt_re)])

cap_y = [170, 170, 342, 342, 560, 560, 735, 735, 945, 945, 1127, 1127]
cap_x = [251, 757] * 6
for txt, cx, cy in zip(captions, cap_x, cap_y):
    fig.text(cx / W, 1 - cy / H, txt, ha='center', va='center',
             family='Liberation Serif', fontsize=17, color='black')

fig.savefig('out.png', dpi=100)
